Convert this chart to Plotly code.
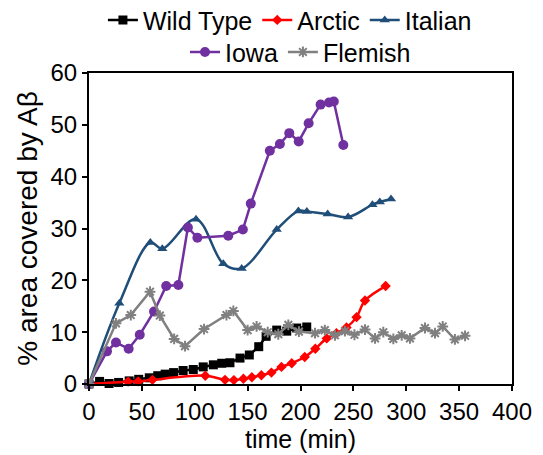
import plotly.graph_objects as go

# Wild Type
wt_t = [0, 10, 19, 28, 38, 47, 57, 65, 72, 80, 89, 98.6, 108, 117.6, 125.5, 133.3, 142.8, 151.6, 160.5, 167.5, 177.5, 187, 196.4, 205.9]
wt_v = [0, 0.5, 0.1, 0.3, 0.6, 0.9, 1.2, 1.6, 1.9, 2.2, 2.6, 2.8, 3.3, 3.7, 4.0, 4.1, 5.0, 5.6, 7.2, 9.2, 10.4, 10.2, 10.8, 11.0]

# Arctic
ar_t = [0, 37, 46.5, 60, 110, 128.6, 137, 146, 154, 163, 172.5, 182, 191.7, 204, 214, 224.8, 234, 243.5, 253, 261, 280.5]
ar_v = [0, 0.45, 0.5, 0.8, 1.6, 0.8, 0.75, 1.0, 1.3, 1.7, 2.2, 3.3, 4.0, 5.2, 6.8, 8.8, 9.8, 10.9, 12.9, 16.1, 18.9]

# Italian
it_t = [0, 28.7, 58, 69.3, 101.2, 127, 144.4, 177.5, 198, 206, 225.7, 245, 268, 275, 285.6]
it_v = [0, 15.6, 27.3, 26.1, 31.8, 23.2, 22.3, 29.8, 33.4, 33.3, 32.8, 32.2, 34.6, 35.1, 35.7]

# Iowa
io_t = [0, 17, 25.5, 37.5, 48, 61.5, 73, 84.5, 93.5, 102.5, 131.7, 145.5, 153, 171, 180.5, 189.4, 198.3, 207.7, 219, 227, 231.5, 240.5]
io_v = [0, 6.3, 8.0, 6.8, 9.5, 14.0, 18.9, 19.1, 30.2, 28.2, 28.6, 29.8, 34.8, 45.0, 46.3, 48.4, 46.8, 50.3, 53.9, 54.3, 54.5, 46.1]

# Flemish
fl_t = [0, 25.5, 39.5, 57.7, 67, 80.5, 90.8, 108.8, 130, 136.5, 150, 158.5, 169, 179, 188.5, 198.5, 213.7, 223, 232.6, 242, 251, 261, 270.5, 278.3, 287.8, 295.7, 303.5, 317.7, 327.2, 334.5, 346, 355.6]
fl_v = [0, 11.7, 13.3, 17.8, 13.2, 8.7, 7.3, 10.6, 13.3, 14.1, 10.4, 11.1, 10.0, 9.6, 11.4, 10.1, 9.8, 10.4, 9.4, 10.2, 9.5, 10.5, 8.8, 10.0, 8.7, 9.4, 8.8, 10.8, 9.8, 11.1, 8.6, 9.3]

x_ticks = [0, 50, 100, 150, 200, 250, 300, 350, 400]
y_ticks = [0, 10, 20, 30, 40, 50, 60]

fig = go.Figure()

def add(t, v, name, color, symbol, size, shape="linear", legend="legend", mline=0):
    fig.add_trace(go.Scatter(
        x=t, y=v, name=name, mode="lines+markers",
        line=dict(color=color, width=2.5, shape=shape),
        marker=dict(symbol=symbol, size=size, color=color, line=dict(color=color, width=mline)),
        cliponaxis=False, legend=legend))

add(wt_t, wt_v, "Wild Type", "#000000", "square", 9)
add(ar_t, ar_v, "Arctic", "#FF0000", "diamond", 8, shape="spline")
add(it_t, it_v, "Italian", "#1F4E79", "triangle-up", 9, shape="spline")
add(io_t, io_v, "Iowa", "#7030A0", "circle", 10, legend="legend2")
add(fl_t, fl_v, "Flemish", "#808080", "asterisk-open", 9, legend="legend2", mline=2)

axis_common = dict(showline=True, linecolor="black", linewidth=2, mirror=True,
                   ticks="outside", ticklen=5, tickwidth=2, tickcolor="black",
                   showgrid=False, zeroline=False, tickfont=dict(size=24))

fig.update_layout(
    width=543, height=455,
    margin=dict(l=89, r=31, t=73, b=71, autoexpand=False),
    plot_bgcolor="white", paper_bgcolor="white",
    font=dict(family="Liberation Sans, Arial, sans-serif", size=24, color="black"),
    xaxis=dict(range=[0, 400], tickvals=x_ticks, title=dict(text="time (min)", standoff=6, font=dict(size=25)), **axis_common),
    yaxis=dict(range=[0, 60], tickvals=y_ticks, title=dict(text="% area covered by Aβ", standoff=5, font=dict(size=28)), **axis_common),
    legend=dict(orientation="h", x=0.475, xanchor="center", y=1.17, yanchor="middle",
                font=dict(size=25), itemwidth=30, bgcolor="rgba(0,0,0,0)"),
    legend2=dict(orientation="h", x=0.5, xanchor="center", y=1.067, yanchor="middle",
                 font=dict(size=25), itemwidth=30, bgcolor="rgba(0,0,0,0)"),
    showlegend=True,
)

fig.write_html("out.html", config={"displayModeBar": False},
               post_script="document.body.style.margin='0';document.body.style.overflow='hidden';")
